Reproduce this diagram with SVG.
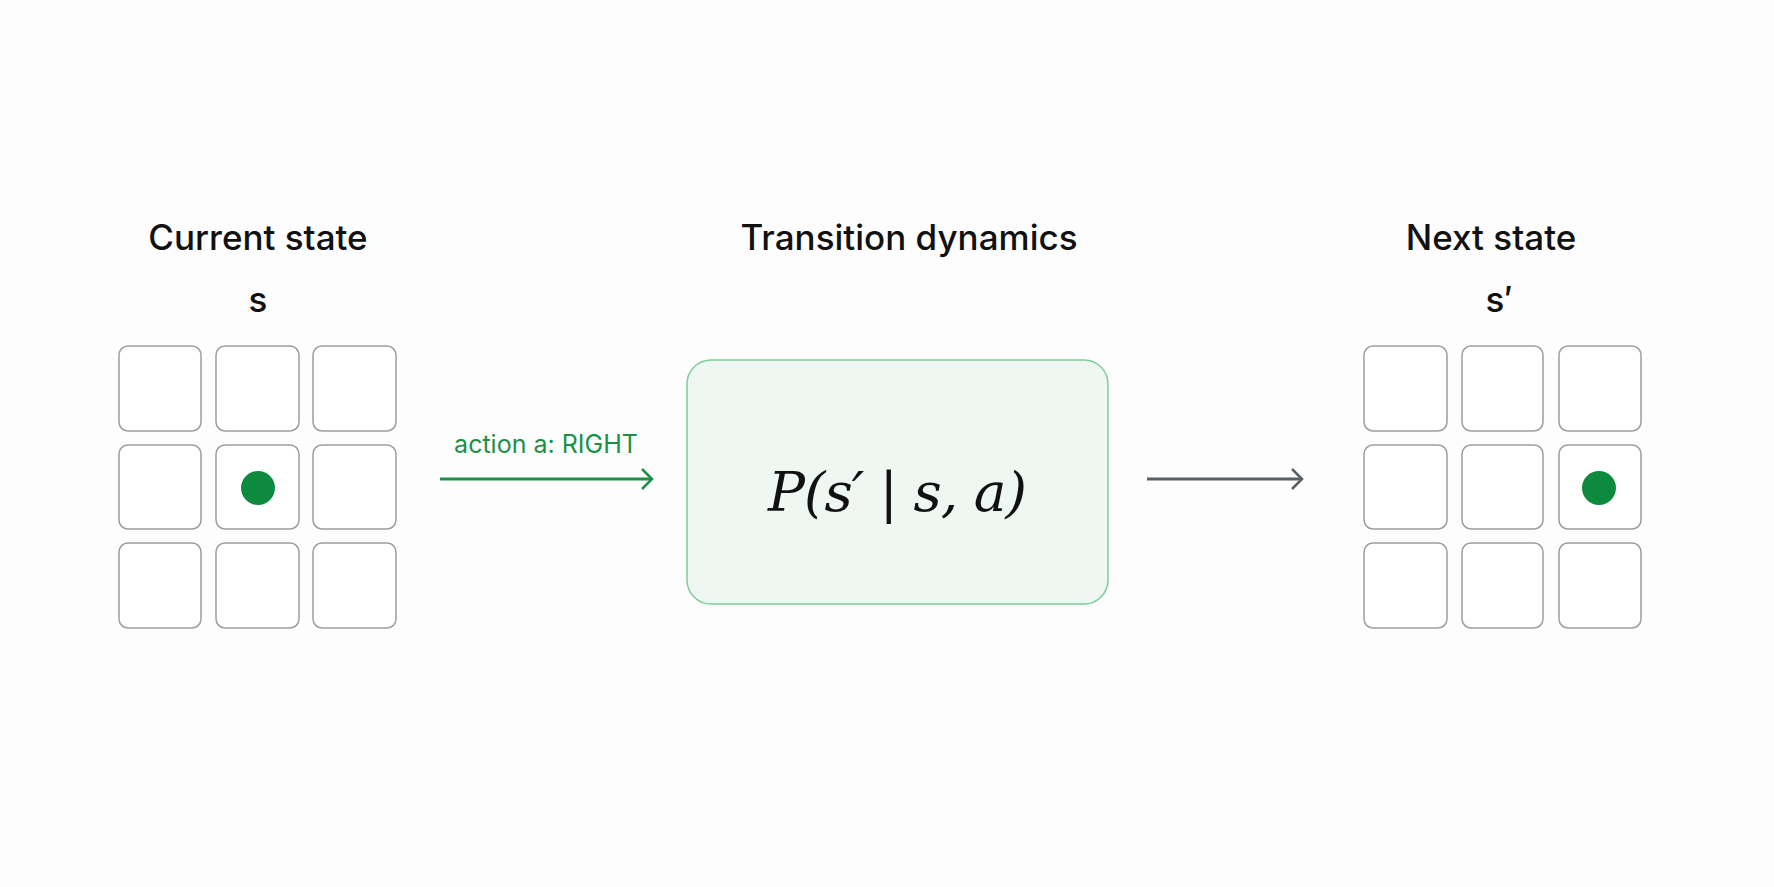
<svg xmlns="http://www.w3.org/2000/svg" width="1774" height="887" viewBox="0 0 1774 887">
<style>
.cell{fill:#fff;stroke:#9a9da2;stroke-width:1.5}
.title{font-family:Inter,"Liberation Sans",sans-serif;font-size:35px;font-weight:500;fill:#111;text-anchor:middle}
.dot{fill:#0d8a3e}
</style>
<defs>
<marker id="ag" markerWidth="14" markerHeight="22" refX="12" refY="11" orient="auto" markerUnits="userSpaceOnUse"><path d="M2,1 L12,11 L2,21" fill="none" stroke="#1a9146" stroke-width="2.5"/></marker>
<marker id="ak" markerWidth="14" markerHeight="22" refX="12" refY="11" orient="auto" markerUnits="userSpaceOnUse"><path d="M2,1 L12,11 L2,21" fill="none" stroke="#5a5f66" stroke-width="2.5"/></marker>
</defs>
<rect width="1774" height="887" fill="#fdfdfd"/>
<g id="current">
<text class="title" x="258" y="250">Current state</text>
<text class="title" x="258" y="312" font-weight="400">s</text>
<rect class="cell" x="119" y="346" width="82" height="85" rx="9"/>
<rect class="cell" x="216" y="346" width="83" height="85" rx="9"/>
<rect class="cell" x="313" y="346" width="83" height="85" rx="9"/>
<rect class="cell" x="119" y="445" width="82" height="84" rx="9"/>
<rect class="cell" x="216" y="445" width="83" height="84" rx="9"/>
<rect class="cell" x="313" y="445" width="83" height="84" rx="9"/>
<rect class="cell" x="119" y="543" width="82" height="85" rx="9"/>
<rect class="cell" x="216" y="543" width="83" height="85" rx="9"/>
<rect class="cell" x="313" y="543" width="83" height="85" rx="9"/>
<circle class="dot" cx="258" cy="488" r="17"/>
</g>
<g id="dynamics">
<text class="title" x="909" y="250">Transition dynamics</text>
<rect x="687" y="360" width="421" height="244" rx="24" fill="#eef7f1" stroke="#7fcc9a" stroke-width="1.5"/>
<text x="897" y="511" text-anchor="middle" font-family="'DejaVu Serif','Liberation Serif',serif" font-style="italic" font-size="55" letter-spacing="-1" fill="#111">P(s′ | s, a)</text>
</g>
<g id="next">
<text class="title" x="1491" y="250">Next state</text>
<text class="title" x="1499" y="312" font-weight="400">s′</text>
<rect class="cell" x="1364" y="346" width="83" height="85" rx="9"/>
<rect class="cell" x="1462" y="346" width="81" height="85" rx="9"/>
<rect class="cell" x="1559" y="346" width="82" height="85" rx="9"/>
<rect class="cell" x="1364" y="445" width="83" height="84" rx="9"/>
<rect class="cell" x="1462" y="445" width="81" height="84" rx="9"/>
<rect class="cell" x="1559" y="445" width="82" height="84" rx="9"/>
<rect class="cell" x="1364" y="543" width="83" height="85" rx="9"/>
<rect class="cell" x="1462" y="543" width="81" height="85" rx="9"/>
<rect class="cell" x="1559" y="543" width="82" height="85" rx="9"/>
<circle class="dot" cx="1599" cy="488" r="17"/>
</g>
<g id="connectors">
<line x1="440" y1="479" x2="652" y2="479" stroke="#1a9146" stroke-width="3" marker-end="url(#ag)"/>
<text x="546" y="453" text-anchor="middle" font-family="Inter,'Liberation Sans',sans-serif" font-size="25" fill="#1a9146">action a: RIGHT</text>
<line x1="1147" y1="479" x2="1302" y2="479" stroke="#5a5f66" stroke-width="3" marker-end="url(#ak)"/>
</g>
</svg>
